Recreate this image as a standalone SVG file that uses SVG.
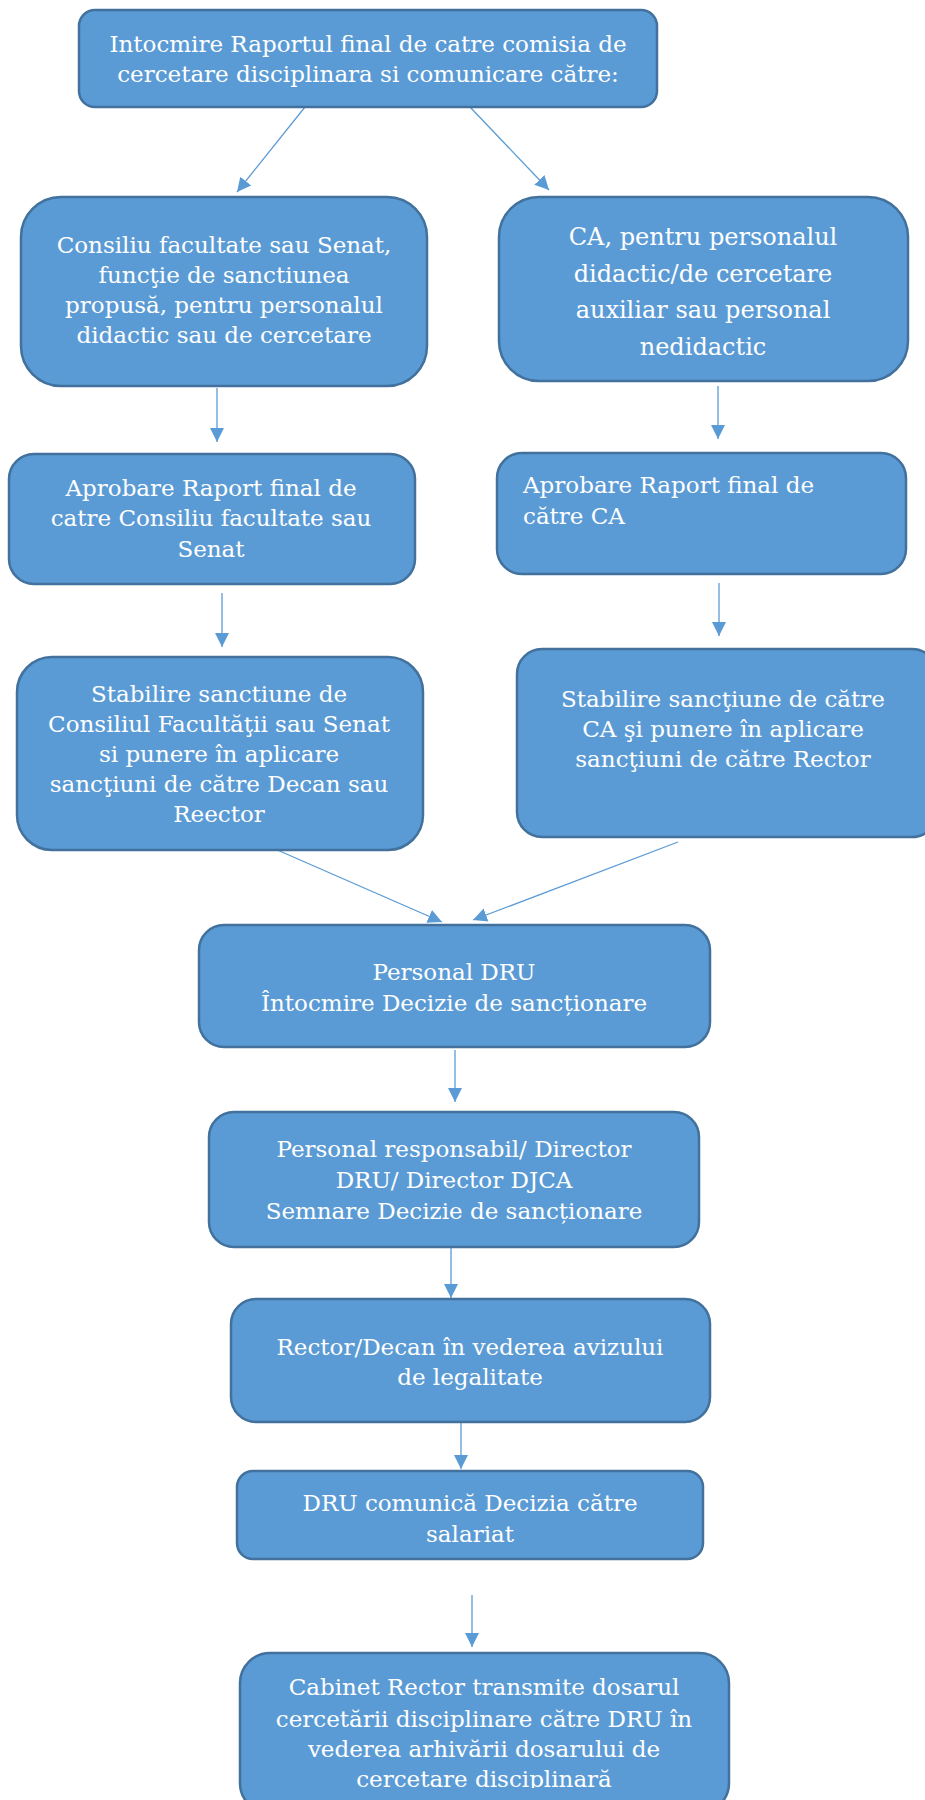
<svg xmlns="http://www.w3.org/2000/svg" width="925" height="1800" viewBox="0 0 925 1800">
<style>
.box{fill:#5B9BD5;stroke:#41719C;stroke-width:2.5}
.t{font-family:"DejaVu Serif","Liberation Serif",serif;font-size:23px;fill:#fff;text-anchor:middle}
.tl{text-anchor:start}
.big{font-size:24px}
.c{stroke:#5B9BD5;stroke-width:1.3;fill:none;marker-end:url(#ah)}
</style>
<defs>
<marker id="ah" markerUnits="userSpaceOnUse" markerWidth="14" markerHeight="16" refX="14" refY="7" orient="auto" viewBox="0 0 14 14">
<path d="M0,0 L14,7 L0,14 Z" fill="#5B9BD5"/>
</marker>
<clipPath id="clipLast"><rect x="0" y="1600" width="925" height="188"/></clipPath>
</defs>
<rect width="925" height="1800" fill="#fff"/>
<g id="connectors">
<line class="c" x1="305" y1="107" x2="237" y2="192"/>
<line class="c" x1="470" y1="107" x2="549" y2="190"/>
<line class="c" x1="217" y1="388" x2="217" y2="442"/>
<line class="c" x1="718" y1="386" x2="718" y2="439"/>
<line class="c" x1="222" y1="593" x2="222" y2="647"/>
<line class="c" x1="719" y1="583" x2="719" y2="636"/>
<line class="c" x1="275" y1="849" x2="442" y2="922"/>
<line class="c" x1="678" y1="842" x2="473" y2="920"/>
<line class="c" x1="455" y1="1050" x2="455" y2="1102"/>
<line class="c" x1="451" y1="1248" x2="451" y2="1298"/>
<line class="c" x1="461" y1="1423" x2="461" y2="1469"/>
<line class="c" x1="472" y1="1595" x2="472" y2="1647"/>
</g>
<g id="n1">
<rect class="box" x="79" y="10" width="578" height="97" rx="16"/>
<text class="t" x="368" y="52">Intocmire Raportul final de catre comisia de</text>
<text class="t" x="368" y="82">cercetare disciplinara si comunicare către:</text>
</g>
<g id="n2">
<rect class="box" x="21" y="197" width="406" height="189" rx="40"/>
<text class="t" x="224" y="253">Consiliu facultate sau Senat,</text>
<text class="t" x="224" y="283">funcţie de sanctiunea</text>
<text class="t" x="224" y="313">propusă, pentru personalul</text>
<text class="t" x="224" y="343">didactic sau de cercetare</text>
</g>
<g id="n3">
<rect class="box" x="499" y="197" width="409" height="184" rx="40"/>
<text class="t big" x="703" y="245">CA, pentru personalul</text>
<text class="t big" x="703" y="282">didactic/de cercetare</text>
<text class="t big" x="703" y="318">auxiliar sau personal</text>
<text class="t big" x="703" y="355">nedidactic</text>
</g>
<g id="n4">
<rect class="box" x="9" y="454" width="406" height="130" rx="25"/>
<text class="t" x="211" y="496">Aprobare Raport final de</text>
<text class="t" x="211" y="526">catre Consiliu facultate sau</text>
<text class="t" x="211" y="557">Senat</text>
</g>
<g id="n5">
<rect class="box" x="497" y="453" width="409" height="121" rx="25"/>
<text class="t tl" x="523" y="493">Aprobare Raport final de</text>
<text class="t tl" x="523" y="524">către CA</text>
</g>
<g id="n6">
<rect class="box" x="17" y="657" width="406" height="193" rx="35"/>
<text class="t" x="219" y="702">Stabilire sanctiune de</text>
<text class="t" x="219" y="732">Consiliul Facultăţii sau Senat</text>
<text class="t" x="219" y="762">si punere în aplicare</text>
<text class="t" x="219" y="792">sancţiuni de către Decan sau</text>
<text class="t" x="219" y="822">Reector</text>
</g>
<g id="n7">
<rect class="box" x="517" y="649" width="420" height="188" rx="25"/>
<text class="t" x="723" y="707">Stabilire sancţiune de către</text>
<text class="t" x="723" y="737">CA şi punere în aplicare</text>
<text class="t" x="723" y="767">sancţiuni de către Rector</text>
</g>
<g id="n8">
<rect class="box" x="199" y="925" width="511" height="122" rx="25"/>
<text class="t" x="454" y="980">Personal DRU</text>
<text class="t" x="454" y="1011">Întocmire Decizie de sancționare</text>
</g>
<g id="n9">
<rect class="box" x="209" y="1112" width="490" height="135" rx="25"/>
<text class="t" x="454" y="1157">Personal responsabil/ Director</text>
<text class="t" x="454" y="1188">DRU/ Director DJCA</text>
<text class="t" x="454" y="1219">Semnare Decizie de sancționare</text>
</g>
<g id="n10">
<rect class="box" x="231" y="1299" width="479" height="123" rx="25"/>
<text class="t" x="470" y="1355">Rector/Decan în vederea avizului</text>
<text class="t" x="470" y="1385">de legalitate</text>
</g>
<g id="n11">
<rect class="box" x="237" y="1471" width="466" height="88" rx="16"/>
<text class="t" x="470" y="1511">DRU comunică Decizia către</text>
<text class="t" x="470" y="1542">salariat</text>
</g>
<g id="n12">
<rect class="box" x="240" y="1653" width="489" height="160" rx="30"/>
<g clip-path="url(#clipLast)">
<text class="t" x="484" y="1695">Cabinet Rector transmite dosarul</text>
<text class="t" x="484" y="1727">cercetării disciplinare către DRU în</text>
<text class="t" x="484" y="1757">vederea arhivării dosarului de</text>
<text class="t" x="484" y="1787">cercetare disciplinară</text>
</g>
</g>
</svg>
